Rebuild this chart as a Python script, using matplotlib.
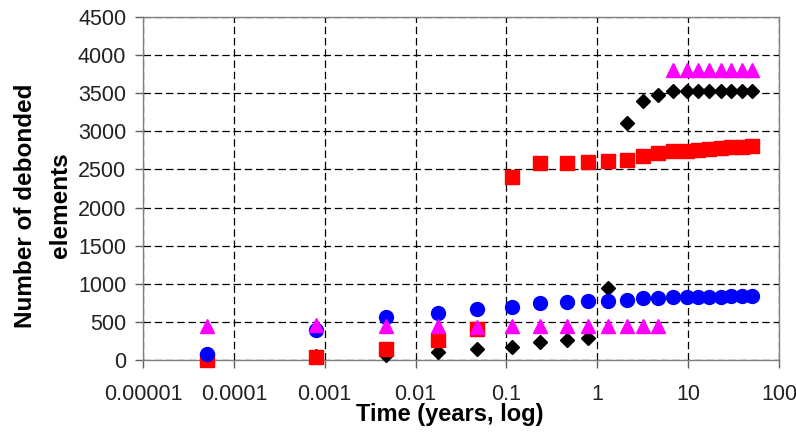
import matplotlib
matplotlib.use("Agg")
import matplotlib.pyplot as plt

# time points (years), shared by all four series
time_years = [5.0e-5, 8.0e-4, 4.7e-3, 1.75e-2, 4.7e-2, 0.115, 0.235, 0.46, 0.80,
              1.3, 2.1, 3.2, 4.7, 6.8, 9.6, 13, 17, 23, 30, 39, 50]

black_diamonds = [0, 50, 70, 109, 140, 175, 240, 262, 285, 940, 3105, 3402, 3477,
                  3535, 3535, 3535, 3535, 3535, 3535, 3535, 3535]
red_squares = [0, 44, 150, 262, 405, 2405, 2580, 2585, 2600, 2615, 2625, 2677, 2720,
               2738, 2745, 2755, 2772, 2780, 2799, 2800, 2808]
blue_circles = [80, 394, 560, 620, 665, 700, 744, 765, 774, 778, 787, 810, 810,
                822, 822, 828, 830, 832, 834, 836, 838]
magenta_triangles = [448, 455, 440, 440, 437, 440, 440, 440, 440, 440, 440, 440, 440,
                     3805, 3805, 3805, 3805, 3805, 3805, 3805, 3805]

x_ticks = [1e-5, 1e-4, 1e-3, 1e-2, 1e-1, 1, 10, 100]
x_tick_labels = ["0.00001", "0.0001", "0.001", "0.01", "0.1", "1", "10", "100"]
y_ticks = list(range(0, 4501, 500))

plt.rcParams["font.family"] = ["Liberation Sans", "DejaVu Sans"]

fig = plt.figure(figsize=(7.96, 4.34), dpi=100)
ax = fig.add_axes([143 / 796, 74 / 434, 636 / 796, 343 / 434])

ax.plot(time_years, black_diamonds, linestyle="none", marker="D", markersize=7.5,
        color="black", zorder=3, clip_on=False)
ax.plot(time_years, red_squares, linestyle="none", marker="s", markersize=9.5,
        color="#ff0000", zorder=4, clip_on=False)
ax.plot(time_years, blue_circles, linestyle="none", marker="o", markersize=10,
        color="#0000ff", zorder=5, clip_on=False)
ax.plot(time_years, magenta_triangles, linestyle="none", marker="^", markersize=10.5,
        color="#ff00ff", zorder=6, clip_on=False)

ax.set_xscale("log")
ax.set_xlim(1e-5, 100)
ax.set_ylim(0, 4500)
ax.set_xticks(x_ticks)
ax.set_xticklabels(x_tick_labels)
ax.minorticks_off()
ax.set_yticks(y_ticks)

ax.grid(True, which="major", color="black", linestyle=(0, (6, 3)), linewidth=0.9)
ax.set_axisbelow(True)

for spine in ax.spines.values():
    spine.set_color("#808080")
    spine.set_linewidth(1.0)
ax.tick_params(axis="both", direction="out", length=6, width=1, color="#606060",
               labelsize=15.5, labelcolor="#222222", pad=6)
ax.tick_params(axis="x", pad=11)

ax.set_xlabel("Time (years, log)", fontsize=17, fontweight="bold")
ax.xaxis.set_label_coords(0.482, -0.125)
ax.set_ylabel("Number of debonded\nelements", fontsize=17.5, fontweight="bold",
              linespacing=1.65)
ax.yaxis.set_label_coords(-0.112, 0.45)

fig.savefig("out.png", dpi=100)
